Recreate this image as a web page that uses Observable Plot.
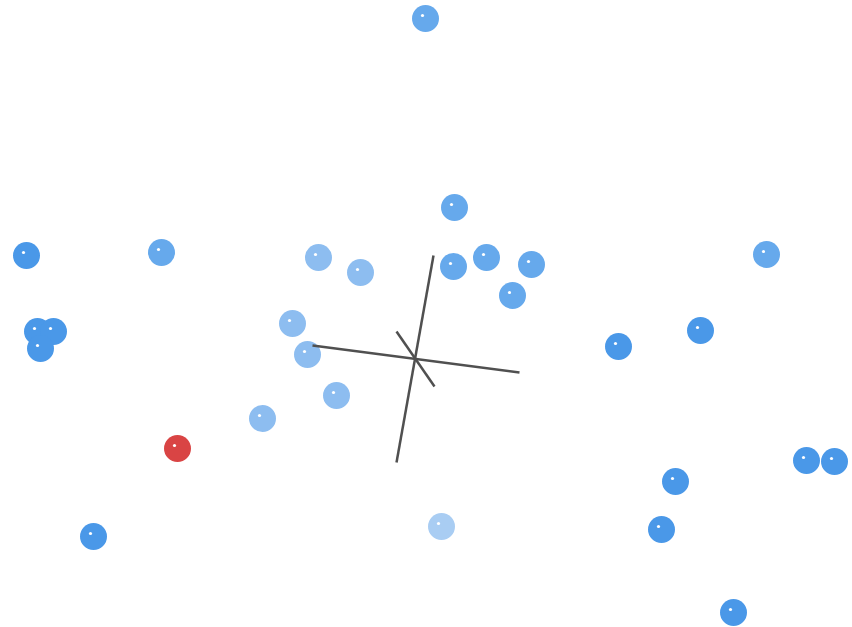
<!DOCTYPE html>
<html>
<head>
<meta charset="utf-8">
<script src="https://cdn.jsdelivr.net/npm/d3@7"></script>
<script src="https://cdn.jsdelivr.net/npm/@observablehq/plot@0.6"></script>
<style>
  html, body { margin: 0; padding: 0; background: #fff; }
  #chart svg { display: block; }
</style>
</head>
<body>
<div id="chart"></div>
<script>
// Projected screen positions of points
const pointX = [425, 454, 26, 161, 318, 360, 453, 486, 531, 512, 766, 37, 53, 40, 292, 307, 336, 262, 618, 700, 177, 93, 441, 675, 806, 834, 661, 733];
const pointY = [18, 207, 255, 252, 257, 272, 266, 257, 264, 295, 254, 331, 331, 348, 323, 354, 395, 418, 346, 330, 448, 536, 526, 481, 460, 461, 529, 612];
const pointShade = ["mid", "mid", "dark", "mid", "light", "light", "mid", "mid", "mid", "mid", "mid", "dark", "dark", "dark", "light", "light", "light", "light", "dark", "dark", "red", "dark", "lightest", "dark", "dark", "dark", "dark", "dark"];

// Axis segments of the 3D frame (projected)
const axisX1 = [433, 312, 396];
const axisY1 = [255, 345, 331];
const axisX2 = [396, 519, 434];
const axisY2 = [462, 372, 386];

const shadeColors = {dark: "#4a98e8", mid: "#66a9ec", light: "#8dbdf0", lightest: "#a9cdf3", red: "#d94444"};

const points = pointX.map((x, i) => ({x, y: pointY[i], fill: shadeColors[pointShade[i]]}));
const axes = axisX1.map((x1, i) => ({x1, y1: axisY1[i], x2: axisX2[i], y2: axisY2[i]}));

const chart = Plot.plot({
  width: 852,
  height: 627,
  margin: 0,
  x: {domain: [0, 852], range: [0, 852], axis: null},
  y: {domain: [0, 627], range: [0, 627], axis: null},
  color: {type: "identity"},
  style: {background: "#fff"},
  marks: [
    Plot.dot(points, {x: "x", y: "y", r: 13.5, fill: "fill", stroke: null}),
    Plot.dot(points, {x: d => d.x - 3, y: d => d.y - 3, r: 1.6, fill: "#fff", stroke: null}),
    Plot.link(axes, {x1: "x1", y1: "y1", x2: "x2", y2: "y2", stroke: "#505050", strokeWidth: 2.5})
  ]
});
document.getElementById("chart").appendChild(chart);
</script>
</body>
</html>
